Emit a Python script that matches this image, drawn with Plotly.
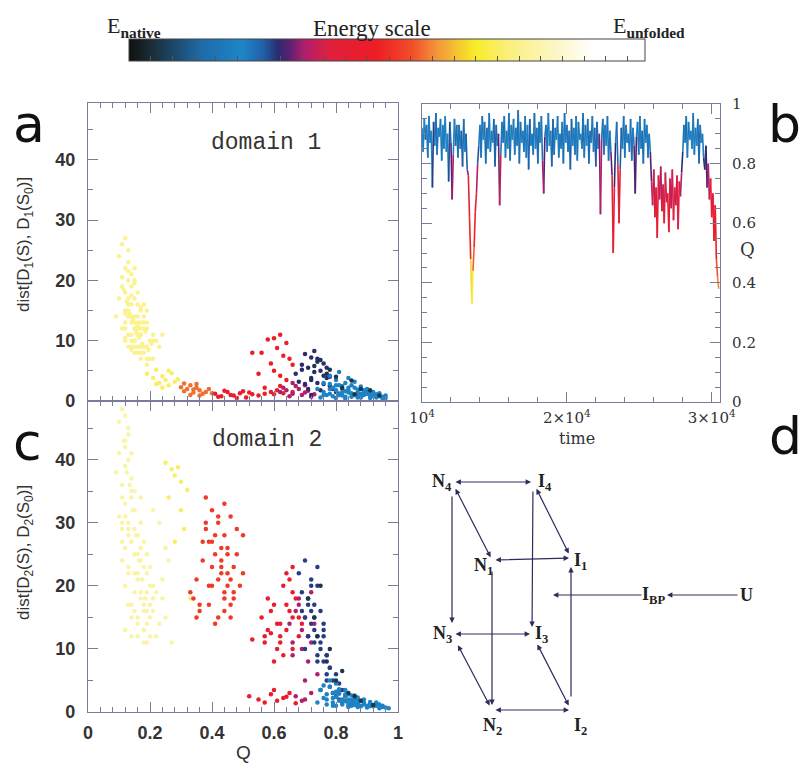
import plotly.graph_objects as go
from plotly.colors import sample_colorscale

W, H = 802, 765

# energy colour scale, native (0) -> unfolded (1)
energy_colors = [
    [0.00, "#101010"], [0.04, "#1a2a33"], [0.09, "#1c4a6e"], [0.14, "#1f6aa8"],
    [0.22, "#1e86c8"], [0.26, "#2060a8"], [0.29, "#2a2a70"], [0.31, "#5a2070"],
    [0.34, "#b01e6e"], [0.39, "#e0203c"], [0.48, "#ee1c24"], [0.55, "#f0502a"],
    [0.60, "#f39a3a"], [0.67, "#f8ec2a"], [0.74, "#faf080"], [0.82, "#fcf6c0"],
    [0.90, "#ffffff"], [1.00, "#ffffff"],
]

# -----------------------------
# panel a: domain 1, dist vs Q
# -----------------------------
a_yellow_q = [0.10, 0.11, 0.12, 0.13, 0.12, 0.14, 0.15, 0.13, 0.11, 0.16,
              0.14, 0.12, 0.15, 0.17, 0.13, 0.16, 0.18, 0.14, 0.12, 0.15,
              0.17, 0.19, 0.13, 0.16, 0.14, 0.18, 0.20, 0.15, 0.17, 0.13,
              0.19, 0.16, 0.14, 0.21, 0.18, 0.15, 0.17, 0.20, 0.12, 0.16,
              0.19, 0.22, 0.14, 0.18, 0.16, 0.21, 0.17, 0.13, 0.19, 0.15,
              0.10, 0.12, 0.14, 0.11, 0.16, 0.13, 0.18, 0.15, 0.20, 0.17,
              0.09, 0.23, 0.24, 0.21, 0.19, 0.12, 0.15, 0.14, 0.17, 0.16,
              0.115, 0.125, 0.135, 0.145, 0.155, 0.165, 0.175, 0.185, 0.195, 0.205,
              0.12, 0.13, 0.14, 0.15, 0.16, 0.17, 0.18, 0.19, 0.13, 0.15,
              0.17, 0.14, 0.16, 0.18, 0.12, 0.11, 0.13, 0.15, 0.17, 0.19]
a_yellow_d = [24, 26, 22, 20, 18, 21, 17, 15, 19, 16,
              14, 13, 12, 15, 17, 11, 13, 10, 12, 9,
              11, 12, 16, 8, 19, 14, 10, 13, 9, 23,
              7, 12, 16, 11, 9, 14, 8, 10, 15, 18,
              6, 10, 11, 8, 13, 7, 12, 14, 9, 10,
              17, 10, 13, 12, 9, 11, 16, 8, 7, 11,
              14, 9, 11, 10, 15, 27, 20, 9, 13, 12,
              18.5, 16.5, 14.5, 13.5, 11.5, 10.5, 9.5, 11.5, 8.5, 9.5,
              10.5, 9.0, 8.5, 10.0, 14.0, 15.5, 12.0, 9.0, 21.5, 19.5,
              11.0, 17.5, 12.5, 16.0, 14.5, 20.5, 25.0, 22.0, 7.0, 13.0]
a_tail_q = [0.19, 0.21, 0.22, 0.23, 0.24, 0.25, 0.26, 0.27, 0.28, 0.24, 0.22, 0.26, 0.29]
a_tail_d = [4.5, 3.8, 5.2, 3.0, 4.1, 3.5, 2.6, 4.6, 3.2, 2.2, 2.8, 5.0, 3.6]
a_orange_q = [0.30, 0.31, 0.32, 0.33, 0.34, 0.35, 0.36, 0.37, 0.33, 0.35, 0.38, 0.39, 0.31, 0.36, 0.40, 0.34]
a_orange_d = [2.3, 1.6, 2.0, 2.6, 1.4, 2.2, 1.8, 1.2, 1.0, 2.8, 1.5, 2.0, 2.9, 0.9, 1.3, 1.9]
a_red_q = [0.41, 0.43, 0.45, 0.47, 0.49, 0.51, 0.53, 0.44, 0.48, 0.52,
           0.46, 0.50, 0.42, 0.55, 0.57, 0.59, 0.61, 0.63, 0.60, 0.62,
           0.58, 0.64, 0.56, 0.61, 0.63, 0.59, 0.65, 0.60, 0.62, 0.66,
           0.57, 0.64, 0.53, 0.55, 0.66, 0.62, 0.60]
a_red_d = [1.2, 0.8, 1.5, 0.9, 1.3, 0.6, 1.1, 1.7, 0.5, 1.4,
           1.0, 1.6, 0.7, 0.9, 1.2, 1.5, 1.8, 1.3, 10.4, 11.0,
           10.2, 9.6, 8.0, 8.8, 7.5, 6.2, 7.0, 5.0, 4.2, 6.0,
           2.2, 3.5, 8.0, 4.5, 1.5, 2.5, 1.1]
a_magenta_q = [0.62, 0.64, 0.66, 0.68, 0.70, 0.65, 0.67, 0.69, 0.71, 0.73, 0.63, 0.66, 0.70, 0.72]
a_magenta_d = [1.5, 1.8, 1.2, 2.0, 1.4, 0.8, 2.5, 1.0, 1.7, 1.1, 2.2, 3.0, 2.6, 0.7]
a_navy_q = [0.67, 0.69, 0.70, 0.72, 0.71, 0.73, 0.74, 0.75, 0.76, 0.72,
            0.74, 0.77, 0.78, 0.70, 0.73, 0.76, 0.79, 0.80, 0.68, 0.75,
            0.71, 0.77, 0.74, 0.81, 0.69, 0.72, 0.78, 0.76]
a_navy_d = [4.5, 6.0, 7.8, 7.2, 5.5, 8.3, 6.5, 5.0, 4.2, 3.5,
            3.0, 3.8, 2.5, 2.8, 4.8, 6.2, 2.0, 1.5, 3.2, 1.8,
            2.0, 5.5, 7.0, 1.2, 5.2, 1.0, 4.0, 2.8]
a_blue_q = [0.74, 0.76, 0.78, 0.80, 0.82, 0.84, 0.86, 0.88, 0.90, 0.92,
            0.94, 0.96, 0.77, 0.79, 0.81, 0.83, 0.85, 0.87, 0.89, 0.91,
            0.93, 0.95, 0.75, 0.78, 0.80, 0.82, 0.84, 0.86, 0.88, 0.90,
            0.79, 0.81, 0.83, 0.85, 0.87, 0.89, 0.91, 0.93, 0.86, 0.88,
            0.80, 0.82, 0.84, 0.78, 0.76, 0.83, 0.85, 0.81, 0.90, 0.92,
            0.81, 0.83, 0.85, 0.87, 0.89, 0.91, 0.93, 0.95, 0.84, 0.86,
            0.88, 0.90, 0.92, 0.80, 0.82, 0.78, 0.76, 0.94, 0.96, 0.87]
a_blue_d = [2.0, 1.5, 2.8, 3.5, 2.5, 1.8, 2.2, 1.2, 1.6, 1.0,
            0.8, 0.5, 1.0, 0.8, 1.2, 3.0, 2.6, 1.5, 1.0, 0.9,
            1.1, 0.7, 0.6, 4.2, 1.8, 0.9, 1.4, 3.2, 2.4, 2.0,
            2.2, 4.8, 1.6, 0.7, 0.9, 1.8, 1.4, 0.6, 1.0, 0.7,
            0.5, 2.0, 3.8, 1.2, 3.0, 0.4, 1.3, 2.6, 1.2, 1.5,
            1.0, 0.7, 1.1, 0.6, 1.3, 0.5, 0.9, 0.4, 2.2, 1.0,
            0.6, 1.2, 0.8, 2.6, 1.4, 2.0, 1.0, 1.3, 0.9, 1.9]
a_dark_q = [0.72, 0.75, 0.78, 0.82, 0.85, 0.88, 0.91, 0.94, 0.80, 0.73, 0.86, 0.77]
a_dark_d = [3.8, 6.8, 5.2, 2.2, 3.4, 2.0, 1.8, 0.9, 4.0, 5.8, 1.1, 4.5]

domain1 = [(a_yellow_q, a_yellow_d, 0.76), (a_tail_q, a_tail_d, 0.72),
           (a_orange_q, a_orange_d, 0.57), (a_red_q, a_red_d, 0.46),
           (a_magenta_q, a_magenta_d, 0.34), (a_navy_q, a_navy_d, 0.29),
           (a_blue_q, a_blue_d, 0.21), (a_dark_q, a_dark_d, 0.06)]

# -----------------------------
# panel c: domain 2, dist vs Q
# -----------------------------
c_yellow_q = [0.10, 0.11, 0.12, 0.13, 0.12, 0.11, 0.13, 0.14, 0.12, 0.10,
              0.11, 0.13, 0.12, 0.14, 0.15, 0.11, 0.13, 0.12, 0.14, 0.16,
              0.15, 0.17, 0.13, 0.16, 0.18, 0.14, 0.12, 0.17, 0.19, 0.15,
              0.16, 0.18, 0.20, 0.14, 0.17, 0.19, 0.21, 0.15, 0.18, 0.16,
              0.20, 0.22, 0.17, 0.19, 0.13, 0.21, 0.18, 0.20, 0.15, 0.23,
              0.09, 0.10, 0.12, 0.14, 0.11, 0.13, 0.16, 0.24, 0.25, 0.22,
              0.26, 0.21, 0.27, 0.19, 0.23, 0.25, 0.17, 0.20, 0.24, 0.18,
              0.11, 0.12, 0.13, 0.14, 0.15, 0.16, 0.17, 0.18, 0.19, 0.20,
              0.115, 0.125, 0.135, 0.145, 0.155, 0.165, 0.175, 0.185, 0.12, 0.14,
              0.16, 0.18, 0.13, 0.15, 0.17, 0.11, 0.12, 0.14, 0.19, 0.21]
c_yellow_d = [46, 48, 42, 44, 39, 36, 40, 35, 33, 31,
              30, 28, 26, 37, 32, 24, 22, 20, 27, 25,
              29, 18, 17, 21, 23, 15, 13, 26, 19, 16,
              14, 17, 20, 12, 30, 22, 18, 19, 13, 28,
              15, 12, 24, 25, 45, 20, 11, 17, 22, 14,
              38, 41, 43, 34, 27, 30, 12, 21, 26, 19,
              24, 32, 11, 16, 30, 15, 34, 23, 18, 27,
              34, 31, 29, 27, 25, 22, 19, 16, 14, 12,
              43, 38, 36, 32, 28, 24, 21, 18, 20, 17,
              15, 13, 23, 35, 26, 29, 47, 41, 11, 16]
c_tail_q = [0.25, 0.27, 0.28, 0.29, 0.30, 0.32, 0.26, 0.31, 0.28, 0.30, 0.33]
c_tail_d = [39.5, 38.5, 37.5, 38.8, 36.5, 35.2, 34.0, 29.0, 27.0, 32.0, 18.0]
c_orange_q = [0.34, 0.36, 0.38, 0.40, 0.42, 0.44, 0.46, 0.48, 0.50, 0.37,
              0.39, 0.41, 0.43, 0.45, 0.47, 0.49, 0.35, 0.38, 0.40, 0.42,
              0.44, 0.46, 0.41, 0.43, 0.45, 0.47, 0.39, 0.42, 0.44, 0.46,
              0.48, 0.40, 0.43, 0.45, 0.36, 0.38, 0.41, 0.44, 0.47, 0.50,
              0.33, 0.35, 0.37, 0.42, 0.45, 0.43, 0.40, 0.46, 0.44, 0.39]
c_orange_d = [18, 16, 34, 32, 30, 33, 31, 29, 28, 24,
              27, 25, 22, 26, 23, 20, 15, 29, 20, 21,
              19, 17, 28, 24, 22, 19, 17, 15, 18, 21,
              25, 23, 26, 20, 17, 30, 14, 16, 18, 22,
              19, 21, 27, 31, 25, 23, 27, 15, 28, 20]
c_red_q = [0.56, 0.58, 0.60, 0.62, 0.64, 0.66, 0.57, 0.59, 0.61, 0.63,
           0.65, 0.67, 0.60, 0.62, 0.64, 0.66, 0.68, 0.58, 0.63, 0.65,
           0.52, 0.55, 0.57, 0.59, 0.61, 0.63, 0.65, 0.67, 0.60, 0.64,
           0.62, 0.66, 0.68, 0.53, 0.57, 0.61, 0.64, 0.66, 0.69, 0.59]
c_red_d = [15, 13, 17, 12, 22, 19, 11, 16, 14, 20,
           16, 18, 8, 11, 13, 15, 12, 18, 9, 21,
           2.5, 2.0, 1.5, 2.8, 1.8, 2.2, 3.0, 1.4, 3.5, 2.4,
           14, 10, 15, 11.5, 12, 10, 17, 23, 14, 12.5]
c_magenta_q = [0.65, 0.67, 0.69, 0.71, 0.68, 0.70, 0.72, 0.66, 0.69, 0.71,
               0.73, 0.67, 0.70, 0.72, 0.68, 0.74, 0.70, 0.66, 0.72, 0.69]
c_magenta_d = [14, 16, 13, 12, 18, 15, 11, 9, 10, 8,
               14, 2.5, 2.0, 3.0, 17, 6, 5, 11, 19, 1.8]
c_navy_q = [0.68, 0.70, 0.72, 0.74, 0.69, 0.71, 0.73, 0.75, 0.70, 0.72,
            0.74, 0.76, 0.71, 0.73, 0.75, 0.77, 0.72, 0.74, 0.76, 0.78,
            0.73, 0.75, 0.77, 0.79, 0.74, 0.76, 0.78, 0.80, 0.75, 0.77,
            0.79, 0.81, 0.70, 0.72, 0.71, 0.73, 0.76, 0.78, 0.80, 0.82,
            0.69, 0.74, 0.77, 0.81, 0.83]
c_navy_d = [22, 24, 21, 23, 19, 18, 17, 16, 15, 14,
            20, 13, 12, 11, 10, 9, 16, 8, 12, 7,
            13, 11, 6, 5, 9, 8, 4, 6, 3.5, 5,
            3, 4.5, 10, 20, 17, 15, 14, 7, 2.5, 3.5,
            16, 12, 9, 2, 1.8]
c_blue_q = [0.75, 0.77, 0.79, 0.81, 0.83, 0.85, 0.87, 0.89, 0.91, 0.93,
            0.95, 0.97, 0.78, 0.80, 0.82, 0.84, 0.86, 0.88, 0.90, 0.92,
            0.94, 0.96, 0.76, 0.79, 0.81, 0.83, 0.85, 0.87, 0.89, 0.91,
            0.80, 0.82, 0.84, 0.86, 0.88, 0.78, 0.80, 0.83, 0.85, 0.87,
            0.74, 0.77, 0.79, 0.82, 0.84, 0.86, 0.81, 0.83, 0.76, 0.93,
            0.80, 0.82, 0.84, 0.86, 0.88, 0.90, 0.92, 0.94, 0.81, 0.83,
            0.85, 0.87, 0.89, 0.91, 0.79, 0.77, 0.95, 0.93, 0.84, 0.86]
c_blue_d = [3.5, 2.8, 2.2, 1.8, 2.5, 1.5, 2.0, 1.2, 1.6, 1.0,
            0.8, 0.6, 4.0, 3.2, 2.0, 1.4, 2.6, 1.8, 1.0, 0.9,
            1.2, 0.7, 2.2, 1.5, 3.6, 2.8, 1.0, 1.4, 2.0, 1.3,
            1.0, 1.2, 2.0, 1.8, 0.9, 5.0, 4.5, 3.5, 2.6, 2.3,
            1.5, 1.2, 1.0, 1.6, 0.8, 1.1, 2.9, 1.7, 4.2, 1.4,
            2.4, 1.5, 1.0, 2.2, 1.0, 0.7, 1.1, 0.6, 3.0, 2.5,
            1.9, 0.8, 1.5, 0.9, 3.0, 2.0, 1.0, 1.5, 2.8, 1.3]
c_dark_q = [0.71, 0.74, 0.77, 0.80, 0.84, 0.88, 0.92, 0.73, 0.78, 0.82, 0.75, 0.86]
c_dark_d = [18, 12, 8, 5, 3, 1.8, 1.1, 15, 10, 6.5, 20, 2.5]

domain2 = [(c_yellow_q, c_yellow_d, 0.79), (c_tail_q, c_tail_d, 0.72),
           (c_orange_q, c_orange_d, 0.52), (c_red_q, c_red_d, 0.45),
           (c_magenta_q, c_magenta_d, 0.34), (c_navy_q, c_navy_d, 0.28),
           (c_blue_q, c_blue_d, 0.21), (c_dark_q, c_dark_d, 0.06)]

# -----------------------------
# panel b: Q(t) trajectory, sampled every 80 time units from t = 10^4
# -----------------------------
t_start, t_step = 10000, 80
q_trace = [
    0.92, 0.84, 0.95, 0.88, 0.93, 0.82, 0.96, 0.87, 0.91, 0.72,
    0.94, 0.86, 0.97, 0.83, 0.92, 0.89, 0.95, 0.81, 0.93, 0.85,
    0.96, 0.84, 0.90, 0.74, 0.94, 0.87, 0.68, 0.83, 0.95, 0.86,
    0.93, 0.82, 0.93, 0.85, 0.91, 0.79, 0.95, 0.84, 0.90, 0.78,
    0.76, 0.62, 0.48, 0.33, 0.44, 0.52, 0.64, 0.70, 0.80,
    0.86, 0.93, 0.82, 0.96, 0.88, 0.94, 0.80, 0.92, 0.85, 0.97,
    0.84, 0.91, 0.87, 0.95, 0.79, 0.93, 0.86, 0.90, 0.66, 0.83,
    0.94, 0.87, 0.96, 0.82, 0.91, 0.85, 0.97, 0.81, 0.93, 0.88,
    0.95, 0.83, 0.92, 0.86, 0.98, 0.80, 0.94, 0.87, 0.91, 0.84,
    0.96, 0.82, 0.93, 0.78, 0.95, 0.86, 0.90, 0.83, 0.97, 0.85,
    0.92, 0.80, 0.94, 0.87, 0.96, 0.81, 0.70, 0.89, 0.93, 0.84,
    0.97, 0.86, 0.91, 0.79, 0.95, 0.83, 0.92, 0.88, 0.96, 0.82,
    0.90, 0.85, 0.94, 0.80, 0.97, 0.87, 0.93, 0.84, 0.91, 0.78,
    0.95, 0.86, 0.92, 0.83, 0.96, 0.81, 0.94, 0.88, 0.90, 0.85,
    0.97, 0.82, 0.93, 0.86, 0.95, 0.80, 0.91, 0.87, 0.96, 0.84,
    0.92, 0.79, 0.94, 0.85, 0.90, 0.63, 0.88, 0.95, 0.83, 0.93,
    0.86, 0.96, 0.81, 0.91, 0.84, 0.76, 0.50, 0.72, 0.87, 0.94,
    0.80, 0.60, 0.78, 0.92, 0.85, 0.96, 0.82, 0.93, 0.87, 0.90,
    0.84, 0.95, 0.81, 0.92, 0.86, 0.70, 0.89, 0.94, 0.83, 0.96,
    0.85, 0.91, 0.80, 0.95, 0.87, 0.93, 0.82, 0.90, 0.84,
    0.74, 0.66, 0.78, 0.62, 0.72, 0.55, 0.76, 0.68, 0.79, 0.64,
    0.73, 0.60, 0.77, 0.67, 0.70, 0.57, 0.75, 0.65, 0.78, 0.61,
    0.72, 0.66, 0.76, 0.58, 0.74, 0.69, 0.77,
    0.84, 0.93, 0.87, 0.96, 0.82, 0.94, 0.88, 0.91, 0.85, 0.97,
    0.83, 0.92, 0.86, 0.95, 0.80, 0.93, 0.87, 0.90, 0.82,
    0.78, 0.86, 0.72, 0.80, 0.68, 0.75, 0.62, 0.70, 0.54, 0.66,
    0.48, 0.42, 0.38,
]
e_trace = [
    0.20, 0.25, 0.18, 0.10, 0.20, 0.28, 0.18, 0.22, 0.08, 0.36,
    0.20, 0.24, 0.05, 0.27, 0.20, 0.21, 0.19, 0.29, 0.12, 0.24,
    0.18, 0.25, 0.08, 0.34, 0.20, 0.22, 0.40, 0.27, 0.18, 0.10,
    0.20, 0.28, 0.06, 0.24, 0.21, 0.31, 0.19, 0.25, 0.20, 0.32,
    0.34, 0.45, 0.54, 0.76, 0.60, 0.52, 0.46, 0.40, 0.30,
    0.23, 0.19, 0.28, 0.06, 0.23, 0.19, 0.30, 0.19, 0.23, 0.19,
    0.28, 0.08, 0.23, 0.19, 0.32, 0.19, 0.23, 0.19, 0.44, 0.28,
    0.19, 0.23, 0.06, 0.28, 0.19, 0.23, 0.19, 0.29, 0.10, 0.23,
    0.19, 0.28, 0.19, 0.23, 0.06, 0.30, 0.19, 0.23, 0.19, 0.28,
    0.19, 0.28, 0.08, 0.33, 0.19, 0.23, 0.19, 0.28, 0.06, 0.23,
    0.19, 0.30, 0.19, 0.23, 0.19, 0.29, 0.38, 0.23, 0.10, 0.28,
    0.19, 0.23, 0.06, 0.32, 0.19, 0.28, 0.19, 0.23, 0.19, 0.28,
    0.19, 0.23, 0.08, 0.30, 0.19, 0.23, 0.19, 0.28, 0.06, 0.33,
    0.19, 0.23, 0.19, 0.28, 0.10, 0.29, 0.19, 0.23, 0.19, 0.23,
    0.06, 0.28, 0.19, 0.23, 0.19, 0.30, 0.19, 0.23, 0.08, 0.28,
    0.19, 0.32, 0.19, 0.23, 0.19, 0.46, 0.23, 0.06, 0.28, 0.19,
    0.23, 0.19, 0.29, 0.19, 0.28, 0.34, 0.50, 0.36, 0.23, 0.19,
    0.30, 0.47, 0.33, 0.19, 0.23, 0.06, 0.28, 0.19, 0.23, 0.19,
    0.28, 0.19, 0.29, 0.10, 0.23, 0.38, 0.23, 0.19, 0.28, 0.19,
    0.23, 0.19, 0.30, 0.06, 0.23, 0.19, 0.28, 0.19, 0.28,
    0.33, 0.40, 0.30, 0.44, 0.35, 0.48, 0.31, 0.39, 0.28, 0.42,
    0.34, 0.46, 0.30, 0.40, 0.37, 0.47, 0.32, 0.41, 0.29, 0.45,
    0.35, 0.40, 0.31, 0.47, 0.33, 0.38, 0.30,
    0.28, 0.19, 0.23, 0.06, 0.28, 0.19, 0.23, 0.19, 0.23, 0.19,
    0.28, 0.08, 0.23, 0.19, 0.30, 0.19, 0.23, 0.19, 0.28,
    0.32, 0.23, 0.36, 0.30, 0.39, 0.34, 0.45, 0.37, 0.49, 0.42,
    0.53, 0.57, 0.60,
]
time = [t_start + t_step * i for i in range(len(q_trace))]

# -----------------------------
# panel d: kinetic scheme (schematic units)
# -----------------------------
nodes = {
    "N4": (0.00, 0.00), "I4": (0.81, 0.00),
    "N1": (0.40, -0.78), "I1": (1.19, -0.76),
    "N3": (0.00, -1.52), "I3": (0.80, -1.52),
    "N2": (0.40, -2.28), "I2": (1.19, -2.28),
    "IBP": (2.01, -1.13), "U": (2.94, -1.13), "core": (1.01, -1.13),
}
node_labels = {
    "N4": "N<sub>4</sub>", "I4": "I<sub>4</sub>", "N1": "N<sub>1</sub>", "I1": "I<sub>1</sub>",
    "N3": "N<sub>3</sub>", "I3": "I<sub>3</sub>", "N2": "N<sub>2</sub>", "I2": "I<sub>2</sub>",
    "IBP": "I<sub>BP</sub>", "U": "U",
}
# (from, to, both heads, tail standoff, head standoff)
transitions = [
    ("N4", "I4", True, 2, 2), ("N1", "I1", True, 2, 2),
    ("N3", "I3", True, 2, 2), ("N2", "I2", True, 2, 2),
    ("N4", "N1", True, 6, 3), ("I4", "I1", True, 6, 5),
    ("N3", "N2", True, 11, 5), ("I3", "I2", True, 10, 5),
    ("N4", "N3", False, 13, 11), ("N1", "N2", False, 10, 5),
    ("I4", "I3", False, 8, 7), ("I2", "I1", False, 12, 9),
    ("U", "IBP", False, 7, 14), ("IBP", "core", False, 10, 0),
]

# -----------------------------
# figure
# -----------------------------
frame_col = "#7a7a9a"
fig = go.Figure()

for panel, (xa, ya) in ((domain1, ("x", "y")), (domain2, ("x2", "y2"))):
    for q, d, e in panel:
        fig.add_trace(go.Scatter(
            x=q, y=d, xaxis=xa, yaxis=ya, mode="markers",
            marker=dict(size=4.5, color=[e] * len(q), coloraxis="coloraxis", line_width=0),
            showlegend=False, hoverinfo="skip"))

# trajectory: one line trace per energy level
segs = {}
for i in range(len(q_trace) - 1):
    e = round((e_trace[i] + e_trace[i + 1]) / 2, 3)
    xs, ys = segs.setdefault(e, ([], []))
    xs += [time[i], time[i + 1], None]
    ys += [q_trace[i], q_trace[i + 1], None]
for e in sorted(segs):
    xs, ys = segs[e]
    fig.add_trace(go.Scatter(
        x=xs, y=ys, xaxis="x3", yaxis="y3", mode="lines",
        line=dict(width=1.6, color=sample_colorscale(energy_colors, [e])[0]),
        showlegend=False, hoverinfo="skip"))

fig.add_trace(go.Scatter(x=[None], y=[None], xaxis="x4", yaxis="y4", showlegend=False))

ann = []
arrow_col = "#2c2c5a"
for a, b, both, s0, s1 in transitions:
    (x0, y0), (x1, y1) = nodes[a], nodes[b]
    ann.append(dict(x=x1, y=y1, ax=x0, ay=y0, xref="x4", yref="y4", axref="x4", ayref="y4",
                    text="", showarrow=True, arrowhead=2, arrowsize=0.9, arrowwidth=1.2,
                    arrowcolor=arrow_col, arrowside="end+start" if both else "end",
                    startarrowhead=2, startarrowsize=0.9, standoff=s1, startstandoff=s0))

label_place = {
    "N4": ("right", "middle", 2, 0), "N3": ("right", "middle", 2, 0),
    "I4": ("left", "middle", 3, 0), "I3": ("left", "middle", 1, 0),
    "N1": ("right", "middle", 3, -6), "I1": ("left", "middle", 1, -3),
    "N2": ("center", "top", 0, -3), "I2": ("left", "top", 1, -3),
    "IBP": ("center", "middle", 0, 0), "U": ("center", "middle", 0, 0),
}
for k, lab in node_labels.items():
    xa_, ya_, dx, dy = label_place[k]
    ann.append(dict(x=nodes[k][0], y=nodes[k][1], xref="x4", yref="y4", text="<b>" + lab + "</b>",
                    showarrow=False, xanchor=xa_, yanchor=ya_, xshift=dx, yshift=dy,
                    font=dict(family="Liberation Serif", size=18, color="#222222")))

def paper(px, py, text, size, family="Liberation Sans", xanchor="center", yanchor="middle",
          angle=0, color="#222222"):
    return dict(x=px / W, y=1 - py / H, xref="paper", yref="paper", text=text, showarrow=False,
                xanchor=xanchor, yanchor=yanchor, textangle=angle,
                font=dict(family=family, size=size, color=color))

ann += [
    paper(29, 124, "a", 52, "DejaVu Sans", color="#111111"),
    paper(784, 124, "b", 52, "DejaVu Sans", color="#111111"),
    paper(27, 442, "c", 52, "DejaVu Sans", color="#111111"),
    paper(767, 436, "d", 52, "DejaVu Sans", xanchor="left", color="#111111"),
    paper(266, 143, "domain 1", 23, "Liberation Mono", color="#333333"),
    paper(267, 440, "domain 2", 23, "Liberation Mono", color="#333333"),
    paper(25, 245, "dist[D<sub>1</sub>(S), D<sub>1</sub>(S<sub>0</sub>)]", 17, angle=-90, color="#333333"),
    paper(25, 553, "dist[D<sub>2</sub>(S), D<sub>2</sub>(S<sub>0</sub>)]", 17, angle=-90, color="#333333"),
    paper(243, 752, "Q", 19, color="#333333"),
    paper(577, 439, "time", 16, "DejaVu Serif", color="#333333"),
    paper(747, 250, "Q", 18, "DejaVu Serif", color="#333333"),
    paper(105, 27, "E<sub><b>native</b></sub>", 22, "Liberation Serif", xanchor="left"),
    paper(372, 29, "Energy scale", 23, "Liberation Serif"),
    paper(611, 27, "E<sub><b>unfolded</b></sub>", 22, "Liberation Serif", xanchor="left"),
]

tick_sans = dict(family="Liberation Sans", size=18, color="#333333", weight="bold")
tick_serif = dict(family="DejaVu Serif", size=15, color="#333333")
frame = dict(showline=True, linecolor=frame_col, linewidth=1.2, mirror="ticks", ticks="inside",
             ticklen=10, tickcolor=frame_col, tickwidth=1, showgrid=False, zeroline=False)

def minor(step, t0=0):
    return dict(ticks="inside", ticklen=5, tickcolor=frame_col, dtick=step, tick0=t0, showgrid=False)

xa_dom = [88 / W, 398 / W]
fig.update_layout(
    width=W, height=H, margin=dict(l=0, r=0, t=0, b=0, autoexpand=False),
    paper_bgcolor="white", plot_bgcolor="white", showlegend=False,
    coloraxis=dict(
        colorscale=energy_colors, cmin=0, cmax=1,
        colorbar=dict(orientation="h", x=387 / W, xanchor="center", y=1 - 53 / H, yanchor="middle",
                      len=516, lenmode="pixels", thickness=22, thicknessmode="pixels",
                      xpad=0, ypad=0, outlinecolor="#444444", outlinewidth=1,
                      ticks="inside", ticklen=5, tickcolor="#555555", dtick=0.042, tick0=0,
                      showticklabels=False)),
    xaxis=dict(frame, domain=xa_dom, anchor="y", range=[0, 1], dtick=0.2, showticklabels=False,
               minor=minor(0.04)),
    yaxis=dict(frame, domain=[1 - 401 / H, 1 - 103 / H], anchor="x", range=[0, 49.4], dtick=10,
               minor=minor(5), tickfont=tick_sans, ticklabelstandoff=8),
    xaxis2=dict(frame, domain=xa_dom, anchor="y2", range=[0, 1], dtick=0.2,
                minor=minor(0.04), tickfont=tick_sans, ticklabelstandoff=4),
    yaxis2=dict(frame, domain=[1 - 712 / H, 1 - 401 / H], anchor="x2", range=[0, 49.3], dtick=10,
                minor=minor(5), tickfont=tick_sans, ticklabelstandoff=8),
    xaxis3=dict(frame, domain=[422 / W, 720 / W], anchor="y3", range=[10000, 30570],
                tickvals=[10000, 20000, 30000],
                ticktext=["10<sup>4</sup>", "2×10<sup>4</sup>", "3×10<sup>4</sup>"],
                minor=minor(2000, 10000), tickfont=tick_serif, ticklabelstandoff=2),
    yaxis3=dict(frame, domain=[1 - 402 / H, 1 - 104 / H], anchor="x3", range=[0, 1], dtick=0.2,
                side="right", minor=minor(0.05), tickfont=tick_serif, ticklabelstandoff=8),
    xaxis4=dict(domain=[420 / W, 790 / W], anchor="y4", range=[-0.32, 3.38], visible=False),
    yaxis4=dict(domain=[1 - 745 / H, 1 - 460 / H], anchor="x4", range=[-2.63, 0.22], visible=False),
    annotations=ann,
)

fig.write_html("out.html", config={"displayModeBar": False},
               post_script="document.body.style.margin = '0px';")
